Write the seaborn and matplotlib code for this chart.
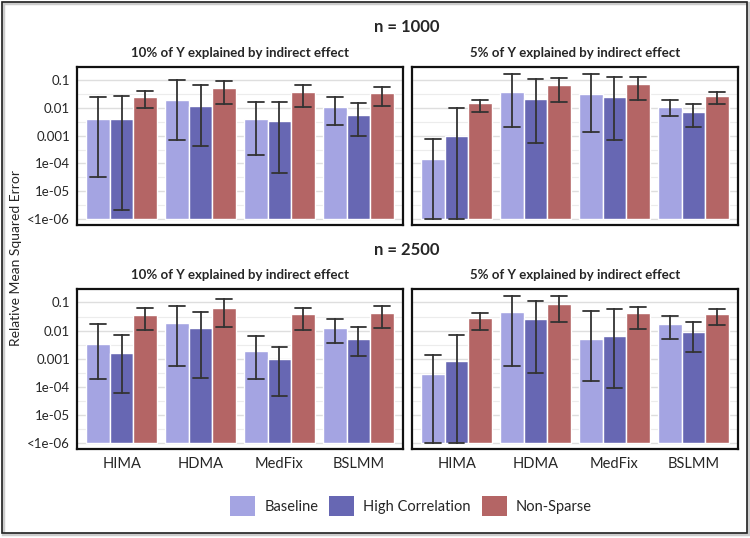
import numpy as np
import pandas as pd
import seaborn as sns
import matplotlib.pyplot as plt
from matplotlib.patches import Rectangle, Patch

methods = ["HIMA", "HDMA", "MedFix", "BSLMM"]
scenarios = ["Baseline", "High Correlation", "Non-Sparse"]
colors = ["#a4a4e2", "#6767b3", "#b46565"]

# values per method, scenario order: Baseline, High Correlation, Non-Sparse
n1000_10_mse = [0.0041, 0.0039, 0.026, 0.020, 0.012, 0.052, 0.0039, 0.0034, 0.037, 0.0106, 0.0058, 0.036]
n1000_10_lo = [3.2e-5, 2.1e-6, 0.010, 7.2e-4, 4.1e-4, 0.0135, 2.1e-4, 4.4e-5, 0.011, 0.0025, 0.00095, 0.0118]
n1000_10_hi = [0.025, 0.027, 0.041, 0.10, 0.066, 0.097, 0.016, 0.017, 0.070, 0.025, 0.0155, 0.056]

n1000_5_mse = [1.4e-4, 9.8e-4, 0.015, 0.037, 0.0215, 0.068, 0.033, 0.026, 0.072, 0.011, 0.007, 0.027]
n1000_5_lo = [1e-6, 1e-6, 0.0074, 0.0020, 5.5e-4, 0.0164, 0.0014, 7.2e-4, 0.019, 0.005, 0.002, 0.0142]
n1000_5_hi = [7.9e-4, 0.0102, 0.020, 0.168, 0.115, 0.12, 0.173, 0.135, 0.135, 0.019, 0.0142, 0.038]

n2500_10_mse = [0.0034, 0.0016, 0.037, 0.0186, 0.0126, 0.061, 0.0018, 9.3e-4, 0.038, 0.012, 0.0052, 0.042]
n2500_10_lo = [1.9e-4, 6.2e-5, 0.0105, 5.4e-4, 2.1e-4, 0.0138, 1.9e-4, 4.5e-5, 0.0105, 0.0035, 0.0012, 0.012]
n2500_10_hi = [0.017, 0.0069, 0.064, 0.074, 0.046, 0.129, 0.0062, 0.0027, 0.064, 0.026, 0.0134, 0.072]

n2500_5_mse = [2.8e-4, 8.1e-4, 0.0275, 0.045, 0.026, 0.087, 0.0048, 0.0062, 0.042, 0.0166, 0.0086, 0.038]
n2500_5_lo = [1e-6, 1e-6, 0.0102, 5.5e-4, 3.2e-4, 0.020, 1.55e-4, 9.1e-5, 0.0117, 0.005, 0.0017, 0.0155]
n2500_5_hi = [0.0013, 0.0071, 0.043, 0.174, 0.115, 0.164, 0.050, 0.059, 0.070, 0.032, 0.020, 0.059]

ytick_vals = [1e-6, 1e-5, 1e-4, 1e-3, 1e-2, 1e-1]
ytick_labels = ["<1e-06", "1e-05", "1e-04", "0.001", "0.01", "0.1"]
titles = ["10% of Y explained by indirect effect", "5% of Y explained by indirect effect"]


def long_df(mse, lo, hi):
    rows = []
    i = 0
    for m in methods:
        for s in scenarios:
            for v in (lo[i], mse[i], hi[i]):
                rows.append({"method": m, "scenario": s, "mse": v})
            i += 1
    return pd.DataFrame(rows)


sns.set_style("white")
plt.rcParams["font.family"] = ["Lato", "DejaVu Sans"]

fig = plt.figure(figsize=(7.5, 5.38), dpi=100)
W, H = 750, 538
pos = {
    (0, 0): (77, 67, 326, 158),
    (0, 1): (412, 67, 326, 158),
    (1, 0): (77, 289, 326, 160),
    (1, 1): (412, 289, 326, 160),
}
panels = {
    (0, 0): (n1000_10_mse, n1000_10_lo, n1000_10_hi),
    (0, 1): (n1000_5_mse, n1000_5_lo, n1000_5_hi),
    (1, 0): (n2500_10_mse, n2500_10_lo, n2500_10_hi),
    (1, 1): (n2500_5_mse, n2500_5_lo, n2500_5_hi),
}

for (r, c), (x0, y0, w, h) in pos.items():
    ax = fig.add_axes([x0 / W, 1 - (y0 + h) / H, w / W, h / H])
    ax.set_yscale("log")
    df = long_df(*panels[(r, c)])
    sns.barplot(data=df, x="method", y="mse", hue="scenario", order=methods,
                hue_order=scenarios, palette=colors, estimator="median",
                errorbar=lambda v: (v.min(), v.max()), width=0.9,
                capsize=0.6, err_kws={"color": "#333333", "linewidth": 1.3},
                bottom=1e-6, saturation=1, legend=False, ax=ax)
    ax.set_ylim(10 ** -6.22, 10 ** -0.52)
    ax.set_xlim(-0.565, 3.565)
    ax.set_yticks(ytick_vals, ytick_labels, fontsize=9.5)
    ax.set_yticks([10 ** (k + 0.5) for k in range(-6, -1)], minor=True)
    ax.yaxis.set_minor_formatter(plt.NullFormatter())
    ax.grid(axis="y", which="major", color="#dedede", linewidth=1)
    ax.grid(axis="y", which="minor", color="#ececec", linewidth=0.8)
    ax.set_axisbelow(True)
    ax.tick_params(which="both", length=0, pad=5)
    ax.set_xlabel("")
    ax.set_ylabel("")
    if r == 0:
        ax.set_xticklabels([])
    else:
        ax.tick_params(axis="x", labelsize=10.5, pad=6)
    if c == 1:
        ax.set_yticklabels([])
    ax.set_title(titles[c], fontsize=9.5, fontweight="bold", pad=7)
    for sp in ax.spines.values():
        sp.set_visible(True)
        sp.set_color("#111111")
        sp.set_linewidth(1.6)

fig.text(407 / W, 1 - 27 / H, "n = 1000", ha="center", va="center",
         fontsize=12, fontweight="bold")
fig.text(407 / W, 1 - 250 / H, "n = 2500", ha="center", va="center",
         fontsize=12, fontweight="bold")
fig.text(16 / W, 1 - 258 / H, "Relative Mean Squared Error", rotation=90,
         ha="center", va="center", fontsize=10)

handles = [Patch(facecolor=col, edgecolor="none") for col in colors]
fig.legend(handles, scenarios, loc="center", bbox_to_anchor=(411 / W, 1 - 506 / H),
           ncol=3, frameon=False, fontsize=10.5, handlelength=1.7,
           handleheight=1.7, handletextpad=0.65, columnspacing=0.75)

fig.patches.append(Rectangle((3 / W, 4 / H), 745 / W, 531 / H, transform=fig.transFigure,
                             fill=False, edgecolor="#cccccc", linewidth=2.5))
fig.patches.append(Rectangle((2 / W, 5 / H), 745 / W, 531 / H, transform=fig.transFigure,
                             fill=False, edgecolor="#222222", linewidth=1.2))

fig.savefig("out.png", dpi=100)
